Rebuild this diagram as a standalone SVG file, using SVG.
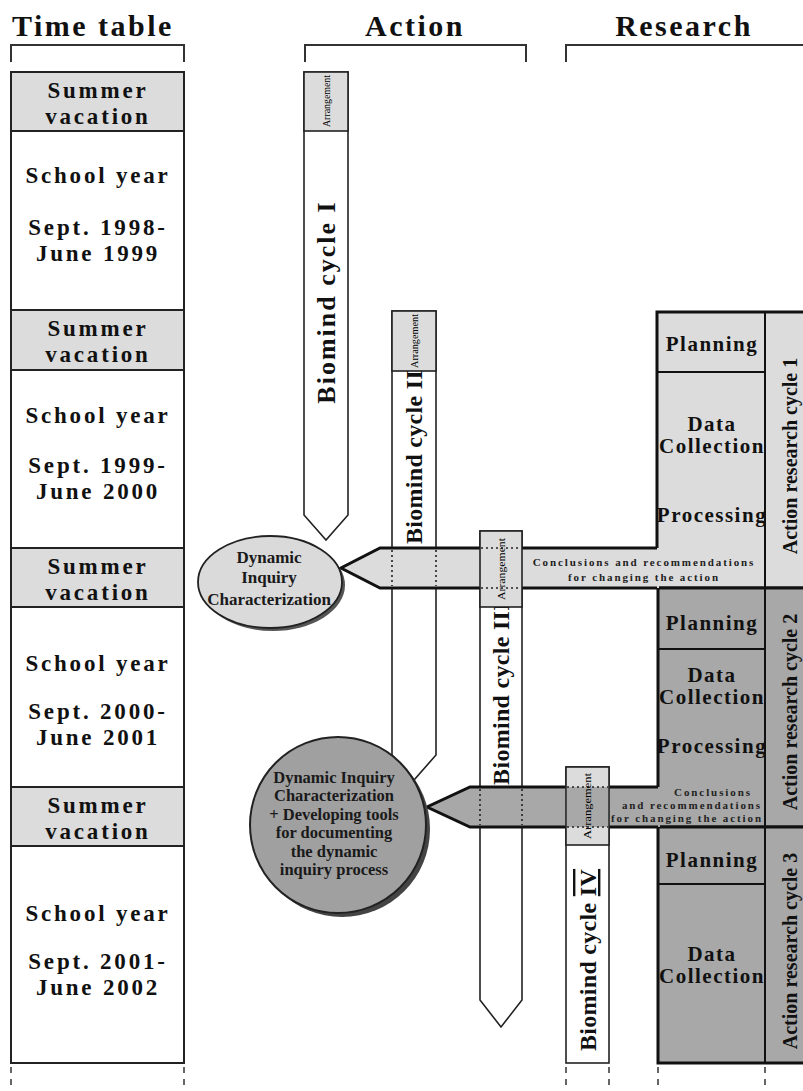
<svg xmlns="http://www.w3.org/2000/svg" width="803" height="1091" viewBox="0 0 803 1091">
<defs>
<style>
.hdr{font-family:"Liberation Serif",serif;font-weight:bold;font-size:30px;letter-spacing:2.5px;fill:#111}
.tt{font-family:"Liberation Serif",serif;font-weight:bold;font-size:23px;letter-spacing:2.8px;fill:#111;text-anchor:middle}
.rs{font-family:"Liberation Serif",serif;font-weight:bold;font-size:21px;letter-spacing:1.5px;fill:#111;text-anchor:middle}
.lab{font-family:"Liberation Serif",serif;font-weight:bold;font-size:20px;fill:#111;text-anchor:middle}
.bio{font-family:"Liberation Serif",serif;font-weight:bold;font-size:24px;letter-spacing:0.3px;fill:#111;text-anchor:middle}
.bio1{font-family:"Liberation Serif",serif;font-weight:bold;font-size:26px;letter-spacing:2px;fill:#111;text-anchor:middle}
.arr{font-family:"Liberation Serif",serif;font-size:10px;fill:#000;text-anchor:middle}
.con{font-family:"Liberation Serif",serif;font-weight:bold;font-size:11px;letter-spacing:1.9px;fill:#222}
.mid{text-anchor:middle}
.end{text-anchor:end}
.cir{font-family:"Liberation Serif",serif;font-weight:bold;font-size:16.5px;fill:#1a1a1a;text-anchor:middle}
.cir1{font-size:17px}
.brk{fill:none;stroke:#333;stroke-width:2}
.box{stroke:#111;stroke-width:3}
.dot{fill:none;stroke:#222;stroke-width:1.6;stroke-dasharray:2 3}
.dash{fill:none;stroke:#333;stroke-width:1.5;stroke-dasharray:6 6}
.lg{fill:#dcdcdc}
.dg{fill:#a8a8a8}
.wh{fill:#fff}
</style>
</defs>
<rect width="803" height="1091" fill="#fff"/>

<g id="headers">
<text class="hdr" x="12" y="36">Time table</text>
<path class="brk" d="M11,62 V45 H184 V62"/>
<text class="hdr" x="415" y="36" text-anchor="middle">Action</text>
<path class="brk" d="M305,62 V45 H526 V62"/>
<text class="hdr" x="684" y="36" text-anchor="middle">Research</text>
<path class="brk" d="M566,62 V45 H810"/>
</g>

<g id="timetable">
<rect class="lg" x="11" y="72" width="173" height="59"/>
<rect class="lg" x="11" y="310" width="173" height="60"/>
<rect class="lg" x="11" y="548" width="173" height="59"/>
<rect class="lg" x="11" y="787" width="173" height="59"/>
<rect x="11" y="72" width="173" height="991" fill="none" stroke="#222" stroke-width="2"/>
<path d="M11,131 H184 M11,310 H184 M11,370 H184 M11,548 H184 M11,607 H184 M11,787 H184 M11,846 H184" stroke="#222" stroke-width="2"/>
<text class="tt" x="98" y="98">Summer</text>
<text class="tt" x="98" y="124">vacation</text>
<text class="tt" x="98" y="183">School year</text>
<text class="tt" x="98" y="235">Sept. 1998-</text>
<text class="tt" x="98" y="261">June 1999</text>
<text class="tt" x="98" y="336">Summer</text>
<text class="tt" x="98" y="362">vacation</text>
<text class="tt" x="98" y="423">School year</text>
<text class="tt" x="98" y="473">Sept. 1999-</text>
<text class="tt" x="98" y="499">June 2000</text>
<text class="tt" x="98" y="574">Summer</text>
<text class="tt" x="98" y="600">vacation</text>
<text class="tt" x="98" y="671">School year</text>
<text class="tt" x="98" y="719">Sept. 2000-</text>
<text class="tt" x="98" y="745">June 2001</text>
<text class="tt" x="98" y="813">Summer</text>
<text class="tt" x="98" y="839">vacation</text>
<text class="tt" x="98" y="921">School year</text>
<text class="tt" x="98" y="969">Sept. 2001-</text>
<text class="tt" x="98" y="995">June 2002</text>
</g>

<g id="cycle1">
<polygon class="wh" points="304,72 348,72 348,515 326,540 304,515" stroke="#222" stroke-width="1.6"/>
<rect class="lg" x="304" y="72" width="44" height="59" stroke="#222" stroke-width="1.6"/>
<text class="arr" transform="translate(329.5,101) rotate(-90)" textLength="52" lengthAdjust="spacingAndGlyphs">Arrangement</text>
<text class="bio1" transform="translate(335,302) rotate(-90)">Biomind cycle I</text>
</g>

<g id="cycle2">
<polygon class="wh" points="392,311 436,311 436,755 414,780 392,755" stroke="#222" stroke-width="1.6"/>
<rect class="lg" x="392" y="311" width="44" height="60" stroke="#222" stroke-width="1.6"/>
<text class="arr" transform="translate(417.5,341) rotate(-90)" textLength="54" lengthAdjust="spacingAndGlyphs">Arrangement</text>
<text class="bio" transform="translate(422,457) rotate(-90)">Biomind cycle II</text>
</g>

<g id="cycle3">
<polygon class="wh" points="480,531 522,531 522,1000 501,1027 480,1000" stroke="#222" stroke-width="1.6"/>
<text class="bio" transform="translate(509,693) rotate(-90)">Biomind cycle III</text>
</g>

<g id="cycle4">
<rect class="wh" x="566" y="767" width="43" height="296" stroke="#222" stroke-width="1.6"/>
<text class="bio" transform="translate(596,960) rotate(-90)">Biomind cycle <tspan text-decoration="underline overline">IV</tspan></text>
</g>

<g id="research-cycle-1">
<path class="lg box" d="M657,548 V312 H810 V588 H657"/>
<path d="M657,372 H765 M765,312 V588" stroke="#111" stroke-width="2"/>
<text class="rs" x="712" y="351">Planning</text>
<text class="rs" x="712" y="431">Data</text>
<text class="rs" x="712" y="453">Collection</text>
<text class="rs" x="712" y="522">Processing</text>
<text class="lab" transform="translate(797,456) rotate(-90)">Action research cycle 1</text>
</g>

<g id="research-cycle-2">
<path class="dg box" d="M658,787 V588 H810 V827 H658"/>
<path d="M658,649 H765 M765,588 V827" stroke="#111" stroke-width="2"/>
<text class="rs" x="712" y="630">Planning</text>
<text class="rs" x="712" y="682">Data</text>
<text class="rs" x="712" y="704">Collection</text>
<text class="rs" x="712" y="753">Processing</text>
<text class="lab" transform="translate(797,712) rotate(-90)">Action research cycle 2</text>
</g>

<g id="research-cycle-3">
<rect class="dg box" x="658" y="827" width="152" height="236"/>
<path d="M658,884 H765 M765,827 V1063" stroke="#111" stroke-width="2"/>
<text class="rs" x="712" y="867">Planning</text>
<text class="rs" x="712" y="961">Data</text>
<text class="rs" x="712" y="983">Collection</text>
<text class="lab" transform="translate(797,951) rotate(-90)">Action research cycle 3</text>
</g>

<g id="connectors">
<polygon class="lg" points="341,568 380,548 659,548 659,588 380,588"/>
<path d="M657,548 H380 L341,568 L380,588 H657" fill="none" stroke="#111" stroke-width="3"/>
<path class="dot" d="M392,550 V586 M436,550 V586"/>
<text class="con mid" x="644" y="566">Conclusions and recommendations</text>
<text class="con mid" x="644" y="581">for changing the action</text>

<polygon class="dg" points="427,807 470,787 660,787 660,827 470,827"/>
<path d="M658,787 H470 L427,807 L470,827 H658" fill="none" stroke="#111" stroke-width="3"/>
<path class="dot" d="M480,789 V825 M522,789 V825"/>
<text class="con mid" x="713" y="796">Conclusions</text>
<text class="con end" x="762" y="809">and recommendations</text>
<text class="con end" x="763" y="822">for changing the action</text>
</g>

<g id="cycle3-arrangement">
<rect class="lg" x="480" y="531" width="42" height="76" stroke="#222" stroke-width="1.6"/>
<path class="dot" d="M481,548 H521 M481,588 H521"/>
<text class="arr" transform="translate(504.5,569) rotate(-90)" textLength="62" lengthAdjust="spacingAndGlyphs">Arrangement</text>
</g>

<g id="cycle4-arrangement">
<rect class="lg" x="566" y="767" width="43" height="78" stroke="#222" stroke-width="1.6"/>
<rect class="dg" x="567" y="787" width="41" height="40"/>
<path class="dot" d="M567,787 H608 M567,827 H608"/>
<text class="arr" transform="translate(591,806) rotate(-90)" textLength="66" lengthAdjust="spacingAndGlyphs">Arrangement</text>
</g>

<g id="circle1">
<ellipse cx="273" cy="585" rx="72" ry="46" fill="#555"/>
<ellipse cx="270" cy="582" rx="72" ry="46" fill="#dadada" stroke="#222" stroke-width="1.8"/>
<text class="cir cir1" x="269" y="563">Dynamic</text>
<text class="cir cir1" x="269" y="583">Inquiry</text>
<text class="cir cir1" x="269" y="605">Characterization</text>
</g>

<g id="circle2">
<ellipse cx="342" cy="829" rx="88" ry="88" fill="#444"/>
<ellipse cx="338" cy="825" rx="88" ry="88" fill="#a0a0a0" stroke="#222" stroke-width="2"/>
<text class="cir" x="334" y="783">Dynamic Inquiry</text>
<text class="cir" x="334" y="801">Characterization</text>
<text class="cir" x="334" y="820">+ Developing tools</text>
<text class="cir" x="334" y="838">for documenting</text>
<text class="cir" x="334" y="857">the dynamic</text>
<text class="cir" x="334" y="875">inquiry process</text>
</g>

<g id="footer-lines">
<path class="dash" d="M11,1067 V1091 M184,1067 V1091 M566,1067 V1091 M609,1067 V1091 M658,1067 V1091 M765,1067 V1091"/>
</g>
</svg>
